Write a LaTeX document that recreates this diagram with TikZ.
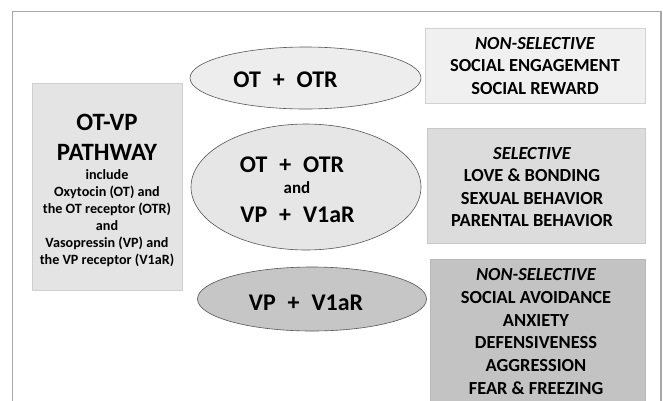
\documentclass[tikz,border=0pt]{standalone}
\usepackage{fontspec}
\setmainfont{Carlito}
\usetikzlibrary{shapes.geometric}
\definecolor{frameC}{HTML}{A8A8A8}
\definecolor{boxAfill}{HTML}{F0F0F0}
\definecolor{boxAline}{HTML}{D2D2D2}
\definecolor{boxBfill}{HTML}{DCDCDC}
\definecolor{boxBline}{HTML}{C8C8C8}
\definecolor{boxCfill}{HTML}{C3C3C3}
\definecolor{boxCline}{HTML}{B8B8B8}
\definecolor{leftfill}{HTML}{E4E4E4}
\definecolor{leftline}{HTML}{D0D0D0}
\definecolor{ovalA}{HTML}{EDEDED}
\definecolor{ovalB}{HTML}{E6E6E6}
\definecolor{ovalC}{HTML}{C6C6C6}
\definecolor{ovalline}{HTML}{555555}
\begin{document}
\begin{tikzpicture}[x=1bp,y=-1bp,
  box/.style={draw, line width=0.8bp, inner sep=0, minimum width=#1},
  oval/.style={ellipse, draw=ovalline, line width=0.6bp, inner sep=0},
  boxtxt/.style={align=center, inner sep=0, font=\fontsize{18.5}{22.7}\selectfont\bfseries},
  ovtxt/.style={inner sep=0, font=\fontsize{24}{27}\selectfont\bfseries},
  titletxt/.style={align=center, inner sep=0, font=\fontsize{25}{30}\selectfont\bfseries},
  smalltxt/.style={align=center, inner sep=0, font=\fontsize{14.2}{17}\selectfont\bfseries}
]
\useasboundingbox (0,0) rectangle (663,400);
\clip (0,0) rectangle (663,400);
\fill[white] (0,0) rectangle (663,400);
\draw[frameC, line width=1.2bp] (12.7,11.7) rectangle (661,420);

% left box
\node[box=149.5bp, minimum height=207bp, draw=leftline, fill=leftfill] (left) at (107.3,186.5) {};
\node[titletxt] (title) at (107,137) {OT-VP\\PATHWAY};
\node[smalltxt] (body) at (107,218) {include\\Oxytocin (OT) and\\the OT receptor (OTR)\\and\\Vasopressin (VP) and\\the VP receptor (V1aR)};

% ellipses
\node[oval, minimum width=231bp, minimum height=62bp, fill=ovalA] (e1) at (305.5,78) {};
\node[oval, minimum width=230bp, minimum height=126bp, fill=ovalB] (e2) at (306,187) {};
\node[oval, minimum width=229bp, minimum height=64bp, fill=ovalC] (e3) at (312,299) {};
\node[ovtxt] (t1) at (285.5,80) {OT\enspace+\enspace OTR};
\node[ovtxt] (t2a) at (292,165) {OT\enspace+\enspace OTR};
\node[inner sep=0, font=\fontsize{17}{20}\selectfont\bfseries] (t2b) at (297,188) {and};
\node[ovtxt] (t2c) at (297.5,215) {VP\enspace+\enspace V1aR};
\node[ovtxt] (t3) at (306,303) {VP\enspace+\enspace V1aR};

% right boxes
\node[box=220bp, minimum height=75bp, draw=boxAline, fill=boxAfill] (bA) at (535,65.5) {};
\node[boxtxt] (tA) at (535,66) {\itshape NON-SELECTIVE\\SOCIAL ENGAGEMENT\\SOCIAL REWARD};
\node[box=218bp, minimum height=115bp, draw=boxBline, fill=boxBfill] (bB) at (536,185.5) {};
\node[boxtxt] (tB) at (532,187) {\itshape SELECTIVE\\LOVE \& BONDING\\SEXUAL BEHAVIOR\\PARENTAL BEHAVIOR};
\node[box=215bp, minimum height=150bp, draw=boxCline, fill=boxCfill] (bC) at (537.5,334) {};
\node[boxtxt] (tC) at (536,331.5) {\itshape NON-SELECTIVE\\SOCIAL AVOIDANCE\\ANXIETY\\DEFENSIVENESS\\AGGRESSION\\FEAR \& FREEZING};
\end{tikzpicture}
\end{document}
